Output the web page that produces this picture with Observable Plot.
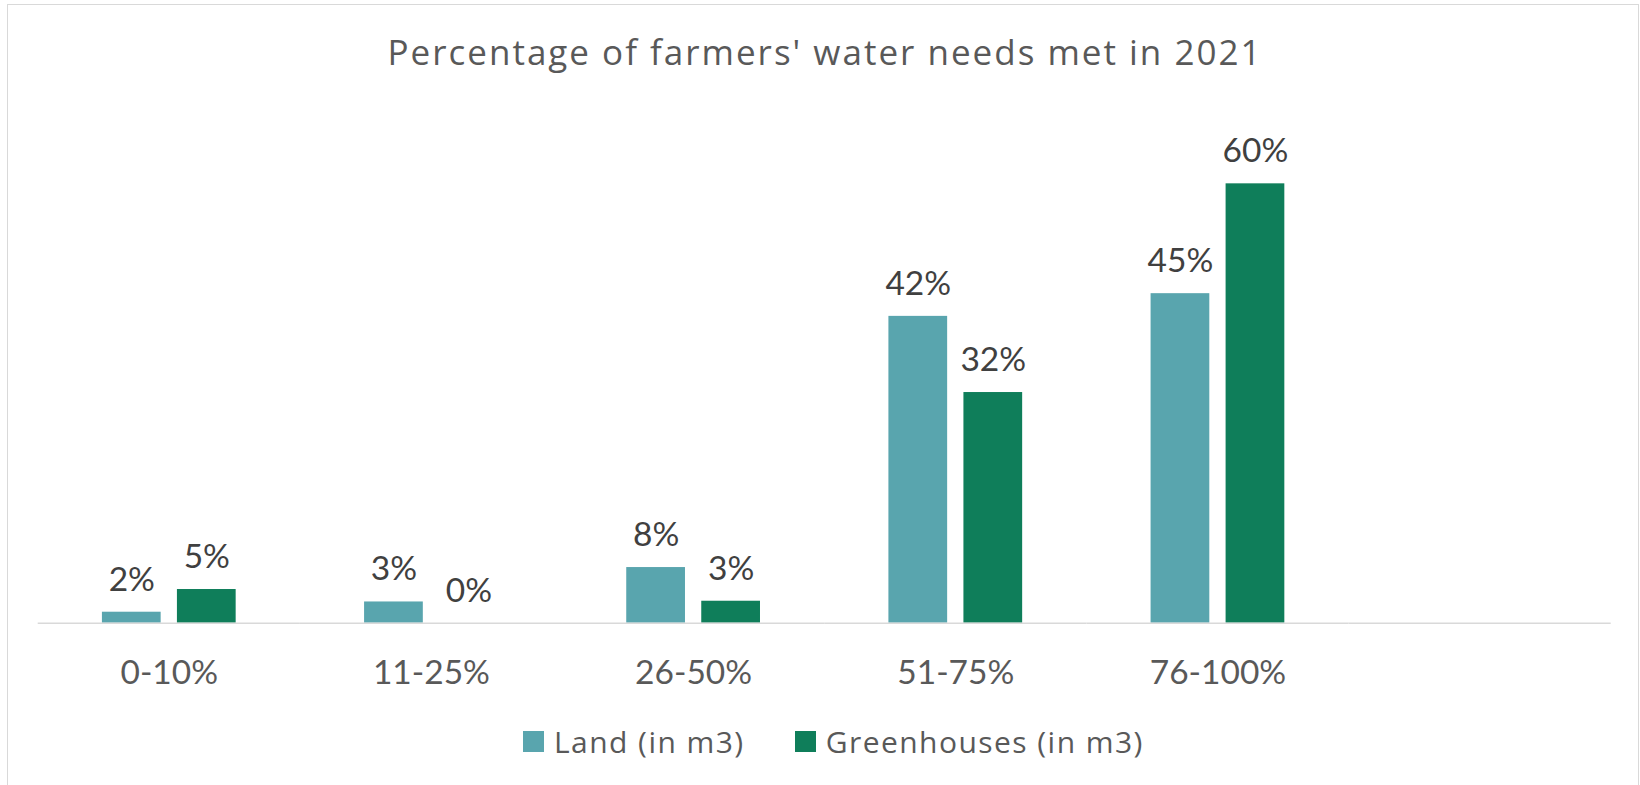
<!DOCTYPE html>
<html>
<head>
<meta charset="utf-8">
<script src="https://cdn.jsdelivr.net/npm/d3@7"></script>
<script src="https://cdn.jsdelivr.net/npm/@observablehq/plot@0.6"></script>
<style>
  html, body { margin: 0; padding: 0; background: #fff; overflow: hidden; }
  #frame { position: absolute; left: 7px; top: 4px; width: 1632px; height: 800px; border: 1px solid #d9d9d9; box-sizing: border-box; }
  #title { position: absolute; left: 5px; top: 32px; width: 1640px; text-align: center; font-family: "Open Sans", sans-serif; font-size: 35px; letter-spacing: 2px; line-height: 40px; color: #595959; white-space: nowrap; }
  #chart { position: absolute; left: 0; top: 100px; }
  #legend { position: absolute; left: 523px; top: 721px; }
  .lg-swatch { margin-right: 50px !important; letter-spacing: 1.45px; }
  .lg-swatch svg { margin-right: 10px !important; }
</style>
</head>
<body>
<div id="frame"></div>
<div id="title">Percentage of farmers' water needs met in 2021</div>
<div id="chart"></div>
<div id="legend"></div>
<script>
// ---- data ----
const categories = ["0-10%", "11-25%", "26-50%", "51-75%", "76-100%"];
const seriesNames = ["Land (in m3)", "Greenhouses (in m3)"];
const landValues = [1.5, 2.9, 7.6, 41.9, 45];
const greenhouseValues = [4.6, 0, 3.0, 31.5, 60];
const seriesColors = ["#59A5AE", "#0F7E5A"];
const emptySlot = " ";

// table built from the arrays
const rows = [];
categories.forEach((c, i) => {
  rows.push({category: c, series: seriesNames[0], value: landValues[i]});
  rows.push({category: c, series: seriesNames[1], value: greenhouseValues[i]});
});
const slots = [...categories, emptySlot];

const fmt = v => Math.round(v) + "%";

const chart = Plot.plot({
  width: 1640,
  height: 600,
  marginLeft: 37.7,
  marginRight: 29.3,
  marginTop: 10.1,
  marginBottom: 77.3,
  style: {fontFamily: "Lato, sans-serif", color: "#595959", background: "transparent", overflow: "visible"},
  fx: {domain: slots, padding: 0, round: false, label: null},
  x: {domain: seriesNames, paddingInner: 0.217, paddingOuter: 0.856, round: false, axis: null},
  y: {domain: [0, 70], axis: null},
  color: {domain: seriesNames, range: seriesColors},
  marks: [
    Plot.barY(rows, {fx: "category", x: "series", y: "value", fill: "series"}),
    Plot.ruleY(slots, {fx: d => d, y: d => 0, stroke: "#d9d9d9", strokeWidth: 1.5}),
    Plot.text(rows, {
      fx: "category", x: "series", y: "value",
      text: d => fmt(d.value),
      lineAnchor: "bottom", dy: -21.7,
      fontSize: 33.5, fill: "#404040"
    }),
    Plot.axisFx({anchor: "bottom", tickSize: 0, tickPadding: 37.3, fontSize: 33.5, label: null, color: "#595959"})
  ]
});
document.getElementById("chart").appendChild(chart);

const legend = Plot.legend({
  color: {type: "ordinal", domain: seriesNames, range: seriesColors},
  swatchSize: 21,
  className: "lg",
  style: {fontFamily: "'Open Sans', sans-serif", fontSize: "30px", color: "#595959", background: "transparent"}
});
document.getElementById("legend").appendChild(legend);
</script>
</body>
</html>
